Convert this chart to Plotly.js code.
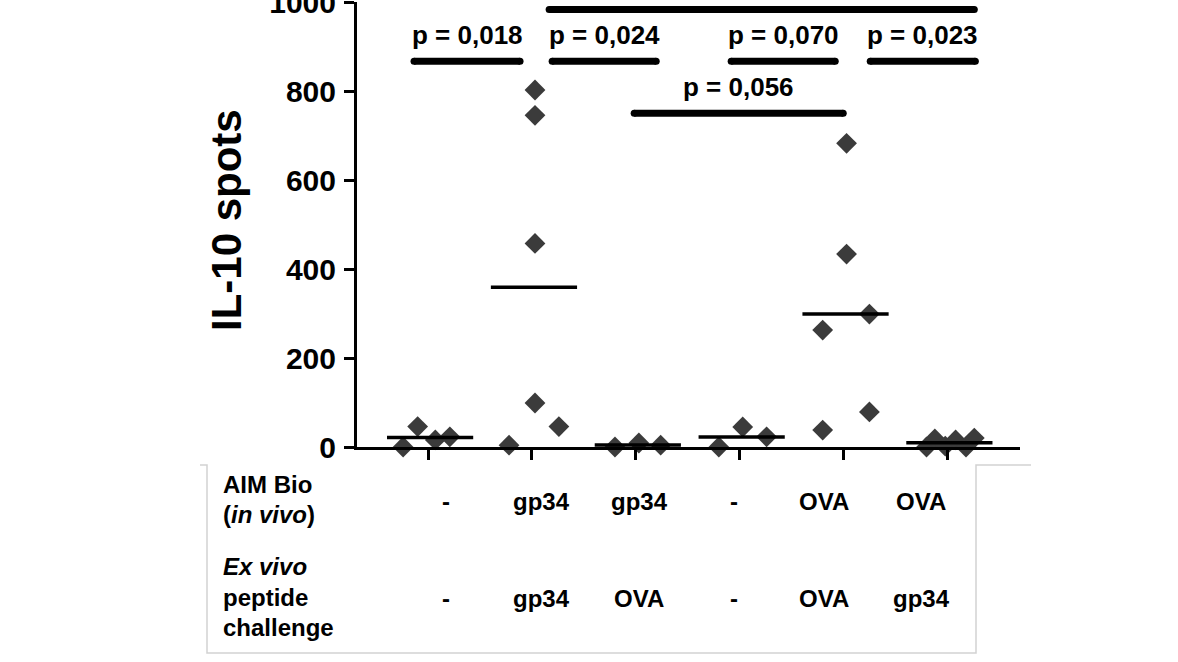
<!DOCTYPE html>
<html><head><meta charset="utf-8">
<script src="https://cdn.plot.ly/plotly-3.0.1.min.js"></script>
<style>html,body{margin:0;padding:0;background:#fff}#chart{width:1178px;height:662px}</style>
</head><body><div id="chart"></div>
<script>
// ---- data ----
const categories = [1, 2, 3, 4, 5, 6];
const aimBio = ['-', 'gp34', 'gp34', '-', 'OVA', 'OVA'];
const exVivo = ['-', 'gp34', 'OVA', '-', 'OVA', 'gp34'];
const yTicks = [0, 200, 400, 600, 800, 1000];

const g1Values = [0, 46, 16, 23];
const g1Jitter = [-0.24, -0.10, 0.07, 0.21];
const g2Values = [4, 803, 746, 458, 99, 46];
const g2Jitter = [-0.22, 0.03, 0.03, 0.03, 0.03, 0.26];
const g3Values = [0, 9, 4];
const g3Jitter = [-0.20, 0.03, 0.24];
const g4Values = [0, 45, 23];
const g4Jitter = [-0.20, 0.03, 0.26];
const g5Values = [38, 683, 434, 263, 299, 79];
const g5Jitter = [-0.20, 0.03, 0.03, -0.20, 0.25, 0.25];
const g6Values = [0, 18, 2, 16, 0, 20];
const g6Jitter = [-0.20, -0.12, -0.02, 0.08, 0.18, 0.26];

const sigStart = [0.865, 2.195, 3.919, 5.258, 2.166, 2.985];
const sigEnd   = [1.886, 3.197, 4.921, 6.270, 6.260, 4.998];
const sigY     = [868, 868, 868, 868, 984, 751];
const sigLabels = ['p = 0,018', 'p = 0,024', 'p = 0,070', 'p = 0,023', '', 'p = 0,056'];

// ---- build ----
const groupsV = [g1Values, g2Values, g3Values, g4Values, g5Values, g6Values];
const groupsJ = [g1Jitter, g2Jitter, g3Jitter, g4Jitter, g5Jitter, g6Jitter];
const px = [], py = [], mx = [], my = [];
groupsV.forEach((vals, i) => {
  const c = categories[i];
  vals.forEach((v, k) => { px.push(c + groupsJ[i][k]); py.push(v); });
  const mean = vals.reduce((a, b) => a + b, 0) / vals.length;
  mx.push(c - 0.395, c + 0.435, null);
  my.push(mean, mean, null);
});
const sx = [], sy = [], ex = [], ey = [];
sigStart.forEach((s, i) => {
  sx.push(s, sigEnd[i], null); sy.push(sigY[i], sigY[i], null);
  ex.push(s, sigEnd[i]); ey.push(sigY[i], sigY[i]);
});

const FONT = 'Liberation Sans, Arial, Helvetica, sans-serif';
const L = 357, R = 1020, T = 2, B = 447;
const xp = p => (p - L) / (R - L);
const yp = p => (B - p) / (B - T);

const traces = [
  {x: px, y: py, type: 'scatter', mode: 'markers', cliponaxis: false, hoverinfo: 'y',
   marker: {symbol: 'diamond', size: 16, color: '#3b3b3b'}},
  {x: mx, y: my, type: 'scatter', mode: 'lines', cliponaxis: false, hoverinfo: 'skip',
   line: {color: '#000', width: 3.5}},
  {x: sx, y: sy, type: 'scatter', mode: 'lines', cliponaxis: false, hoverinfo: 'skip',
   line: {color: '#000', width: 7}},
  {x: ex, y: ey, type: 'scatter', mode: 'markers', cliponaxis: false, hoverinfo: 'skip',
   marker: {symbol: 'circle', size: 7, color: '#000'}}
];

const annotations = [];
sigLabels.forEach((t, i) => {
  if (!t) return;
  annotations.push({x: (sigStart[i] + sigEnd[i]) / 2, y: sigY[i] + 58, xref: 'x', yref: 'y',
    text: t, showarrow: false, xanchor: 'center', yanchor: 'middle',
    font: {family: FONT, size: 26, color: '#000', weight: 'bold'}});
});
const colX = [446, 541, 639, 734, 824, 921];
const tf = {family: FONT, size: 24, color: '#000', weight: 'bold'};
aimBio.forEach((t, i) => annotations.push({x: xp(colX[i]), y: yp(501), xref: 'paper', yref: 'paper',
  text: t, showarrow: false, xanchor: 'center', yanchor: 'middle', font: tf}));
exVivo.forEach((t, i) => annotations.push({x: xp(colX[i]), y: yp(598), xref: 'paper', yref: 'paper',
  text: t, showarrow: false, xanchor: 'center', yanchor: 'middle', font: tf}));
const rowLabels = [['AIM Bio', 484], ['(<i>in vivo</i>)', 514], ['<i>Ex vivo</i>', 566], ['peptide', 597], ['challenge', 627]];
rowLabels.forEach(([t, y]) => annotations.push({x: xp(221), y: yp(y), xref: 'paper', yref: 'paper',
  text: t, showarrow: false, xanchor: 'left', yanchor: 'middle', font: tf}));
annotations.push({x: xp(226), y: yp(220), xref: 'paper', yref: 'paper', text: 'IL-10 spots',
  textangle: -90, showarrow: false, xanchor: 'center', yanchor: 'middle',
  font: {family: FONT, size: 42, color: '#000', weight: 'bold'}});

const boxPath = `M ${xp(200)} ${yp(465)} L ${xp(207)} ${yp(465)} L ${xp(207)} ${yp(653)} L ${xp(976)} ${yp(653)} L ${xp(976)} ${yp(465)} L ${xp(1031)} ${yp(465)}`;

const layout = {
  width: 1178, height: 662,
  margin: {l: L, r: 1178 - R, t: T, b: 662 - B},
  paper_bgcolor: '#fff', plot_bgcolor: '#fff',
  showlegend: false,
  xaxis: {range: [0.316, 6.70], tickvals: categories, showticklabels: false, ticks: 'outside',
    ticklen: 10, tickwidth: 3, tickcolor: '#000', showline: true, linewidth: 3, linecolor: '#000',
    showgrid: false, zeroline: false, fixedrange: true},
  yaxis: {range: [0, 1001], tickvals: yTicks, ticks: 'outside', ticklen: 10, tickwidth: 3,
    tickcolor: '#000', showline: true, linewidth: 3, linecolor: '#000', showgrid: false,
    zeroline: false, fixedrange: true, ticklabelstandoff: 2, ticklabeloverflow: 'allow',
    tickfont: {family: FONT, size: 30, color: '#000', weight: 'bold'}},
  annotations: annotations,
  shapes: [{type: 'path', xref: 'paper', yref: 'paper', path: boxPath,
    line: {color: '#d2d2d2', width: 1.5}}]
};
Plotly.newPlot('chart', traces, layout, {displayModeBar: false, staticPlot: true});
</script></body></html>
